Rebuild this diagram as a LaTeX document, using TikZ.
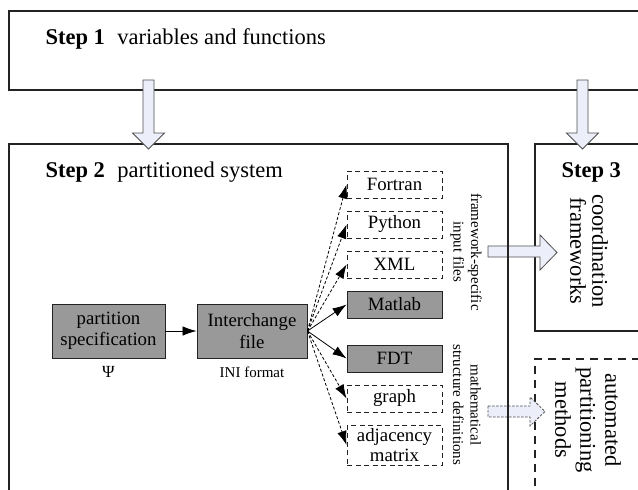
\documentclass[tikz,border=0pt]{standalone}
\usepackage{fontspec}
\setmainfont{Liberation Serif}
\usetikzlibrary{arrows.meta,positioning}
\definecolor{boxgray}{RGB}{153,153,153}
\definecolor{arrowfill}{RGB}{236,239,250}
\definecolor{lineclr}{RGB}{35,35,35}
\tikzset{
    stepbox/.style={rectangle,draw=lineclr,line width=1.1pt,inner sep=0pt},
    optbox/.style={stepbox,dash pattern=on 8pt off 6pt},
    steptxt/.style={font=\fontsize{22.5}{24}\selectfont},
    fmt/.style={rectangle,draw=lineclr,line width=0.9pt,minimum width=95pt,minimum height=27pt,inner sep=1pt,align=center,font=\fontsize{18.8}{20}\selectfont},
    fmtopt/.style={fmt,dash pattern=on 5pt off 3.5pt},
    fmtgray/.style={fmt,fill=boxgray},
    core/.style={fmtgray,minimum height=54pt,font=\fontsize{18.8}{21.5}\selectfont},
    small/.style={font=\fontsize{15}{17.5}\selectfont},
    edge/.style={-{Latex[length=14pt,width=9.5pt]},line width=0.8pt},
    edgeopt/.style={edge,dash pattern=on 3pt off 2pt},
    fatarrow/.style={draw=lineclr!80,line width=0.8pt,fill=arrowfill,line join=miter},
}
\begin{document}
\begin{tikzpicture}[x=1pt,y=-1pt]
\clip (0,0) rectangle (638,490);

% the four stages
\node[stepbox,minimum width=641pt,minimum height=79pt]  (s1) at (329.5,50.5) {};
\node[stepbox,minimum width=115pt,minimum height=187pt] (s3) at (592.5,237.5) {};
\node[optbox,minimum width=115pt,minimum height=141pt]  (s4) at (592.5,429.5) {};

\node[steptxt,anchor=base west] (t1) at (42,44) {\textbf{Step 1}\hspace{0.55em}variables and functions};
\node[steptxt,anchor=base west] (t2) at (42,177) {\textbf{Step 2}\hspace{0.55em}partitioned system};
\node[steptxt,anchor=base west] (t3) at (558,177) {\textbf{Step 3}};
\node[steptxt,rotate=-90,align=center,font=\fontsize{22.5}{22}\selectfont] (crd) at (589,251) {coordination\\frameworks};
\node[steptxt,rotate=-90,align=center,font=\fontsize{22.5}{25}\selectfont] (apm) at (588,420) {automated\\partitioning\\methods};

% spec -> interchange file
\node[core,minimum width=113pt] (part) at (108.5,331) {partition\\specification};
\node[core,minimum width=110pt] (ini)  at (252,331)   {Interchange\\file};
\node[small,font=\fontsize{17}{18}\selectfont] (psi) at (108.5,372) {Ψ};
\node[small] (inif) at (252,372) {INI format};
\draw[edge] (part) -- (ini);

% output formats
\node[fmtopt]  (fo) at (394.5,184.5) {Fortran};
\node[fmtopt]  (py) at (394.5,224.5) {Python};
\node[fmtopt]  (xm) at (394.5,264.5) {XML};
\node[fmtgray] (ma) at (394.5,304.5) {Matlab};
\node[fmtgray] (fd) at (394.5,358.5) {FDT};
\node[fmtopt]  (gr) at (394.5,398.5) {graph};
\node[fmtopt,minimum height=40pt,font=\fontsize{18.8}{20}\selectfont] (am) at (394.5,445) {adjacency\\matrix};

\foreach \n in {fo,py,xm,gr,am}
    \draw[edgeopt] (ini.east) -- (\n.west);
\foreach \n in {ma,fd}
    \draw[edge] (ini.east) -- (\n.west);

\node[small,rotate=-90,align=center] (fsi) at (466,252) {framework-specific\\input files};
\node[small,rotate=-90,align=center] (msd) at (467,405) {mathematical\\structure definitions};

% block arrows towards the right column
\draw[fatarrow] (488,246) -- (540,246) -- (540,235) -- (557,252.5) -- (540,270) -- (540,257) -- (488,257) -- cycle;
\draw[fatarrow,dash pattern=on 2.5pt off 1.5pt] (488,406) -- (530,406) -- (530,397) -- (545,411.5) -- (530,426) -- (530,417) -- (488,417) -- cycle;

\node[stepbox,minimum width=499pt,minimum height=356pt] (s2) at (258.5,322) {};

% block arrows out of step 1
\draw[fatarrow] (143,80) -- (154,80) -- (154,133) -- (164.5,133) -- (148.5,149) -- (132.5,133) -- (143,133) -- cycle;
\draw[fatarrow] (577,80) -- (588,80) -- (588,133) -- (598.5,133) -- (582.5,149) -- (566.5,133) -- (577,133) -- cycle;
\end{tikzpicture}
\end{document}
